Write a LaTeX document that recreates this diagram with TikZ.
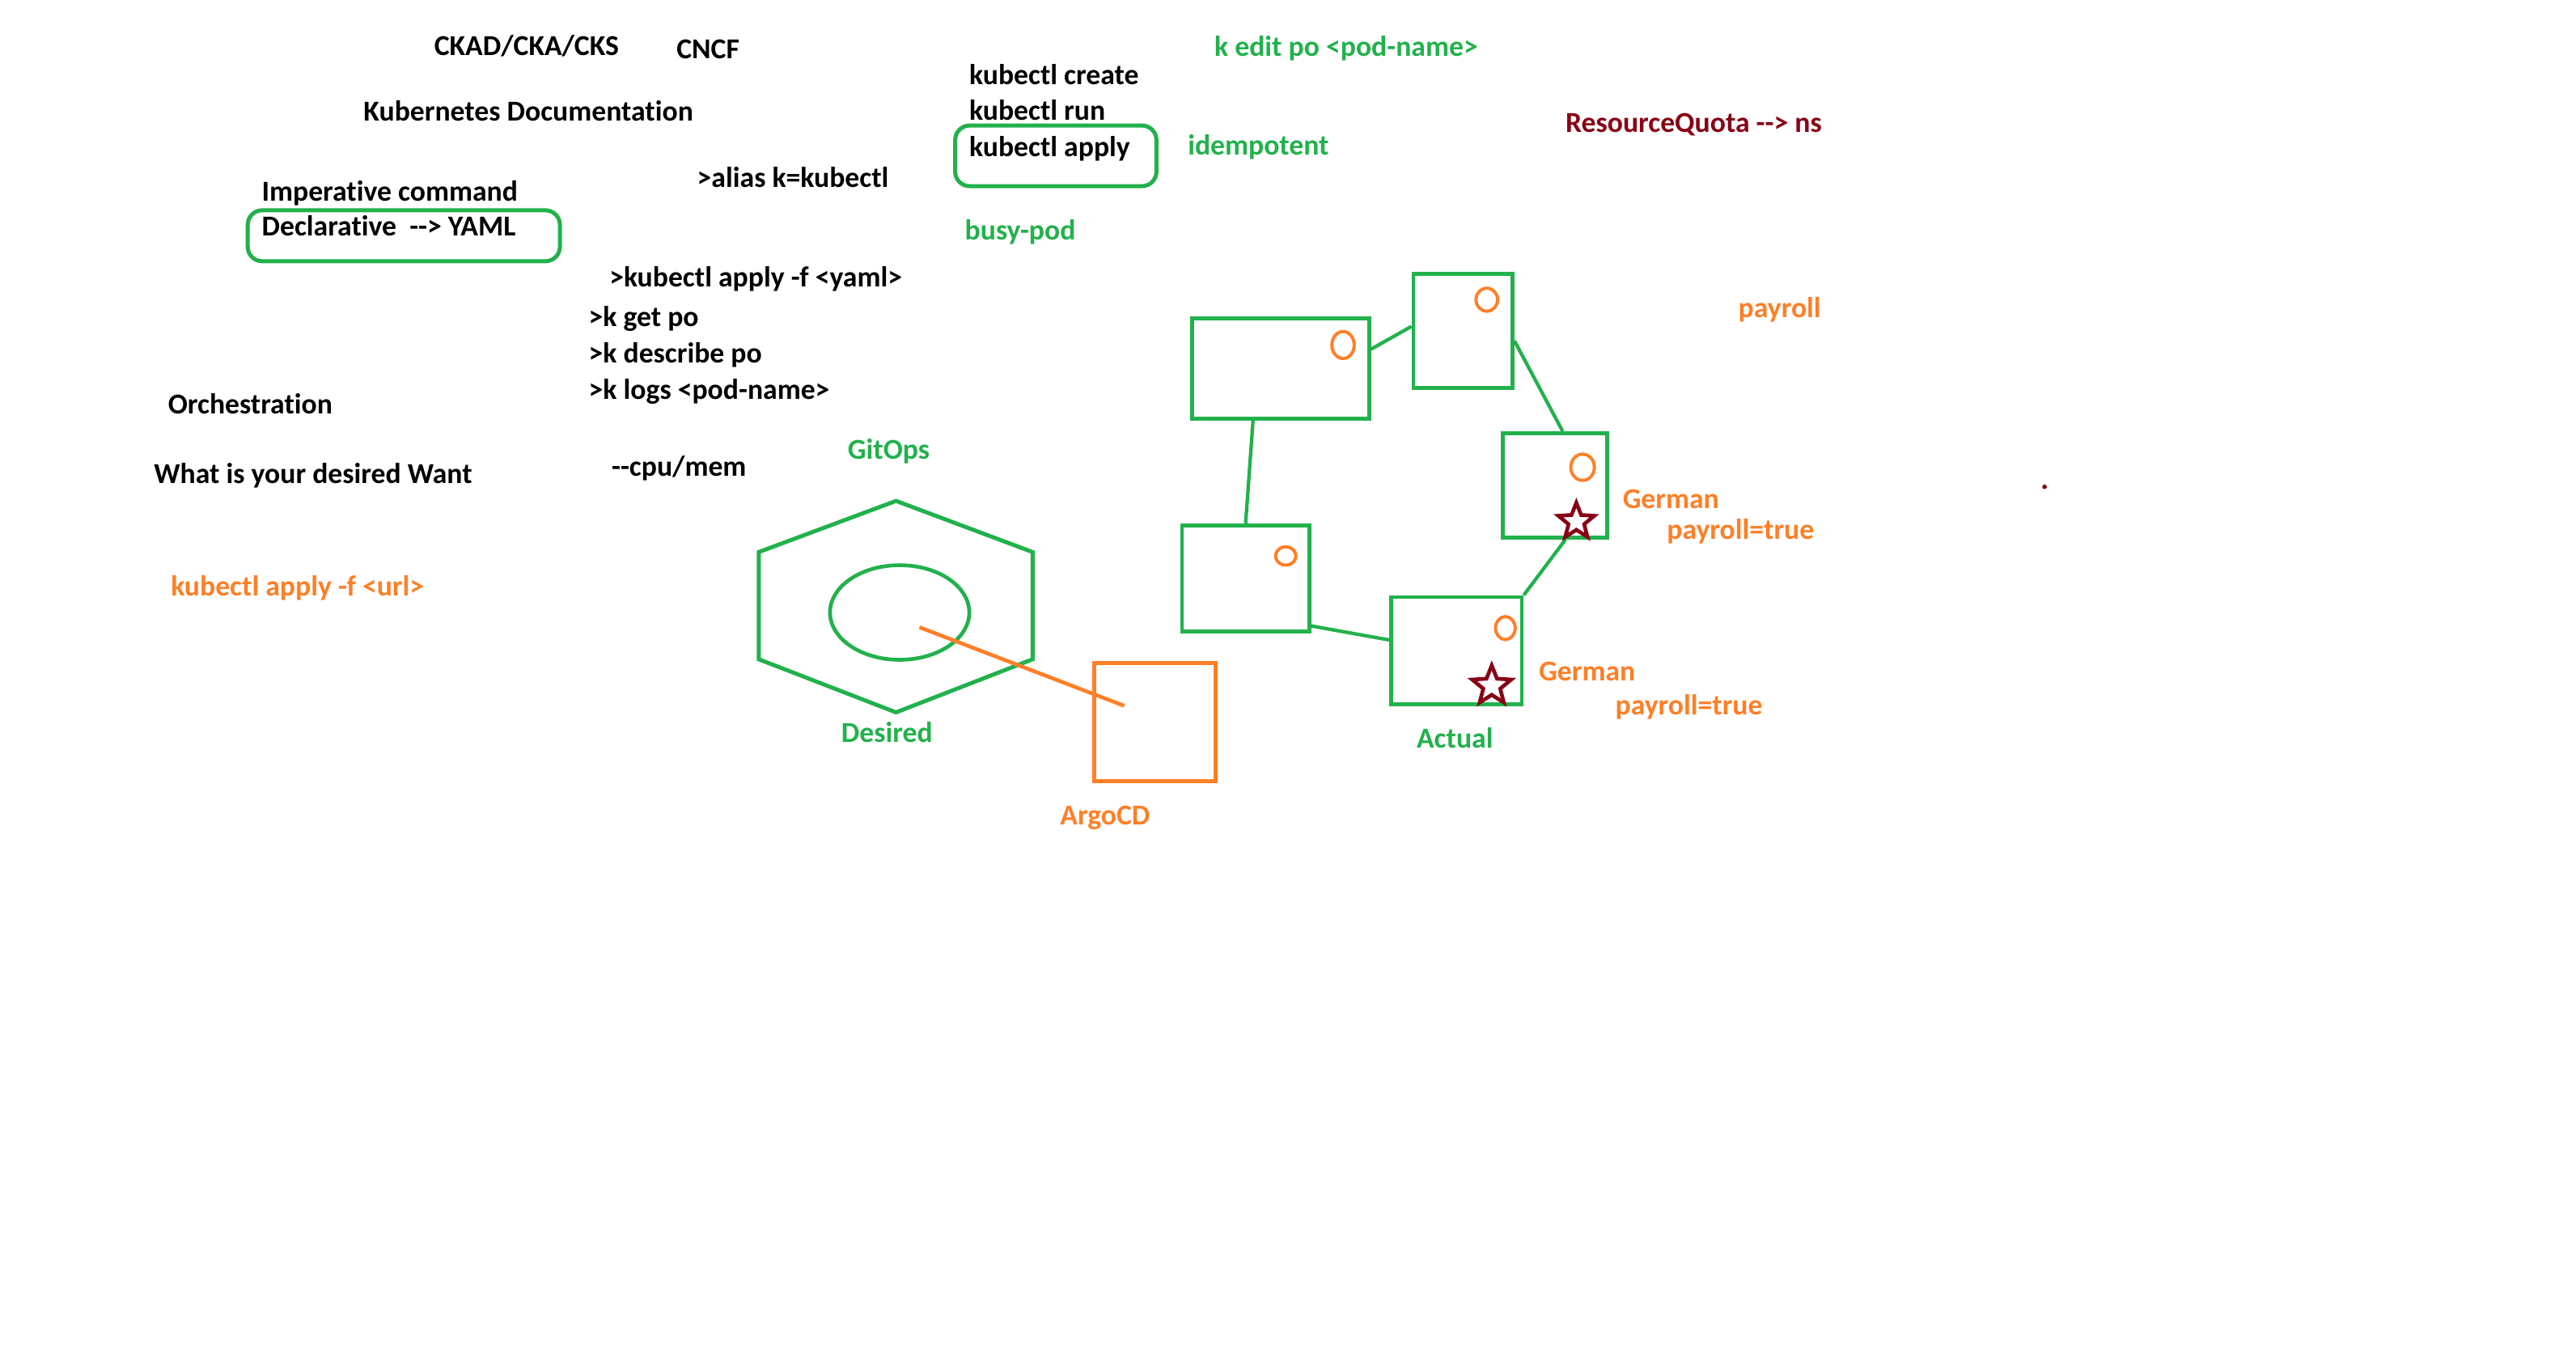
\documentclass[tikz,border=0pt]{standalone}
\usepackage{fontspec}
\setmainfont{Carlito}[Ligatures={NoCommon}]
\usepackage{tikz}
\usetikzlibrary{shapes.geometric}

\definecolor{paintgreen}{RGB}{34,177,76}
\definecolor{paintorange}{RGB}{255,127,39}
\definecolor{paintred}{RGB}{136,0,21}

\begin{document}
\begin{tikzpicture}[x=0.02cm,y=-0.02cm,
    note/.style={font=\fontsize{10}{12}\selectfont\bfseries, inner sep=0pt, anchor=base west},
    podbox/.style={draw=paintgreen, line width=1.35pt, rectangle, inner sep=0pt},
    podlink/.style={draw=paintgreen, line width=1.2pt},
    podmark/.style={draw=paintorange, line width=1.1pt},
    podstar/.style={star, star points=5, star point ratio=2.3, draw=paintred,
        line width=1.3pt, fill=white, inner sep=0pt},
    roundbox/.style={draw=paintgreen, line width=1.4pt, rounded corners=5pt}]
    % Canvas
    \fill[white] (0,0) rectangle (1568,825);
    \useasboundingbox (0,0) rectangle (1568,825);

    % Notes in black
    \node[note] (ckad) at (264,33.5) {CKAD/CKA/CKS};
    \node[note] (cncf) at (411.5,35.5) {CNCF};
    \node[note] (k8sdoc) at (221,73.7) {Kubernetes Documentation};
    \node[note] (alias) at (424,114) {>alias k=kubectl};
    \node[note] (imperative) at (159,122.2) {Imperative command};
    \node[note] (declarative) at (159,143.6) {Declarative~~-{}-> YAML};
    \node[note] (applyyaml) at (370.6,174.7) {>kubectl apply -f <yaml>};
    \node[note] (getpo) at (358,198.5) {>k get po};
    \node[note] (describepo) at (358,220.7) {>k describe po};
    \node[note] (logspo) at (358,242.8) {>k logs <pod-name>};
    \node[note] (orch) at (102,251.9) {Orchestration};
    \node[note] (want) at (93.4,294.2) {What is your desired Want};
    \node[note] (cpumem) at (372,289.6) {-{}-cpu/mem};
    \node[note] (create) at (589.7,51.3) {kubectl create};
    \node[note] (run) at (589.7,72.9) {kubectl run};
    \node[note] (apply) at (589.7,95.1) {kubectl apply};

    % Notes in colour
    \node[note, paintgreen] (edit) at (738.9,34.4) {k edit po <pod-name>};
    \node[note, paintgreen] (idem) at (722.7,94.3) {idempotent};
    \node[note, paintgreen] (busypod) at (587,146) {busy-pod};
    \node[note, paintgreen] (gitops) at (515.7,279.7) {GitOps};
    \node[note, paintgreen] (desired) at (511.8,451.6) {Desired};
    \node[note, paintgreen] (actual) at (862,455.4) {Actual};
    \node[note, paintred] (quota) at (952.6,80.3) {ResourceQuota -{}-> ns};
    \node[note, paintorange] (applyurl) at (103.7,362.7) {kubectl apply -f <url>};
    \node[note, paintorange] (argolbl) at (645,502.2) {ArgoCD};
    \node[note, paintorange] (payroll) at (1057.8,193.2) {payroll};
    \node[note, paintorange] (germana) at (987.4,309.6) {German};
    \node[note, paintorange] (payrolla) at (1014.3,328.2) {payroll=true};
    \node[note, paintorange] (germanb) at (936.4,414.6) {German};
    \node[note, paintorange] (payrollb) at (982.9,435) {payroll=true};

    % Rounded boxes round the chosen commands
    \draw[roundbox] (150.8,128) rectangle (340.8,159);
    \draw[roundbox] (581.4,76.4) rectangle (703.9,113.3);

    % Desired state: hexagon with the repo inside
    \draw[paintgreen, line width=1.4pt] (545.4,304.9) -- (628.5,336) -- (628.5,401.3)
        -- (545.4,433.6) -- (461.9,401.3) -- (461.9,336) -- cycle;
    \node[ellipse, draw=paintgreen, line width=1.3pt, inner sep=0pt,
        minimum width=1.696cm, minimum height=1.152cm] (repo) at (547.6,372.8) {};
    \node[draw=paintorange, line width=1.4pt, inner sep=0pt,
        minimum width=1.48cm, minimum height=1.436cm] (argocd) at (702.9,439.6) {};
    \draw[paintorange, line width=1.3pt] ([shift={(12.1,9)}]repo.center)
        -- ([shift={(-18.6,-10)}]argocd.center);

    % Actual state: the pods
    \node[podbox, minimum width=2.152cm, minimum height=1.224cm] (poda) at (779.6,224.2) {};
    \node[podbox, minimum width=1.206cm, minimum height=1.386cm] (podb) at (890.5,201.4) {};
    \node[podbox, minimum width=1.278cm, minimum height=1.272cm] (podc) at (946.5,295.4) {};
    \node[podbox, minimum width=1.548cm, minimum height=1.292cm] (podd) at (758.2,352) {};
    \node[podbox, minimum width=1.592cm, minimum height=1.302cm] (pode) at (886.5,396) {};

    \draw[podlink] (poda.12) -- (podb.175);
    \draw[podlink] (podb.-11) -- (podc.82);
    \draw[podlink] (podc.-79) -- (pode.north east);
    \draw[podlink] (poda.-118) -- (podd.north);
    \draw[podlink] (podd.-36) -- (pode.171);

    % Containers and labels in the pods
    \draw[podmark] (817.5,210) ellipse [x radius=6.8, y radius=8.2];
    \draw[podmark] (905,182.4) ellipse [x radius=6.6, y radius=7];
    \draw[podmark] (963.3,284.4) ellipse [x radius=7.2, y radius=8];
    \draw[podmark] (782.6,338.4) ellipse [x radius=6.2, y radius=5.6];
    \draw[podmark] (916.3,382.3) ellipse [x radius=6, y radius=7];
    \node[podstar, minimum size=0.46cm] (stara) at (959.5,317.5) {};
    \node[podstar, minimum size=0.5cm] (starb) at (908,417.5) {};

    \fill[paintred] (1244.5,296.3) circle [radius=1.4];
\end{tikzpicture}
\end{document}
